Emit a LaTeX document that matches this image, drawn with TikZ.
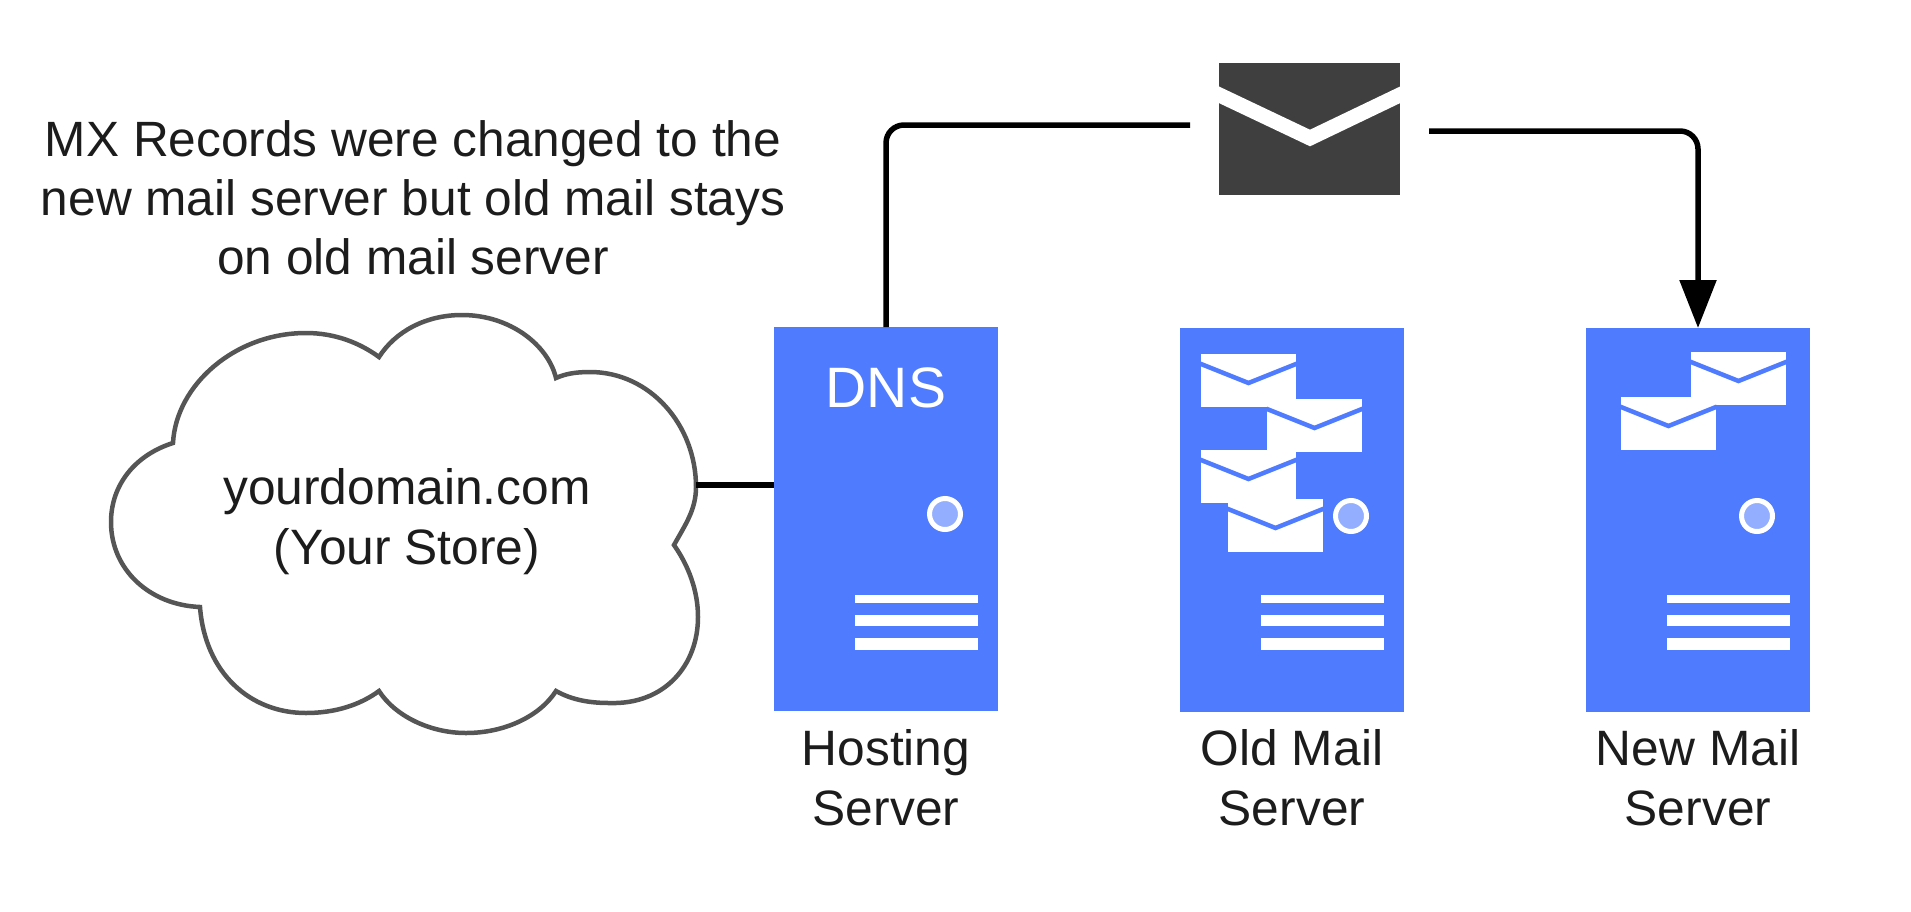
\documentclass[tikz,border=0pt]{standalone}
\usepackage{fontspec}
\setmainfont{Liberation Sans}
\usetikzlibrary{arrows.meta}
\definecolor{srvblue}{HTML}{4F7BFF}
\definecolor{ledblue}{HTML}{94AEFF}
\definecolor{mailgrey}{HTML}{3F3F3F}
\definecolor{cloudgrey}{HTML}{555555}
\definecolor{inkgrey}{HTML}{1C1C1C}
\tikzset{
  server/.style={fill=srvblue,draw=none,minimum width=224pt,minimum height=384pt,inner sep=0pt,outer sep=0pt},
  label/.style={text=inkgrey,align=center,font=\fontsize{49.7}{60}\selectfont,inner sep=0pt},
  link/.style={line width=5.5pt,draw=black,rounded corners=18pt},
  led/.style={circle,fill=ledblue,draw=white,line width=5pt,minimum size=31pt,inner sep=0pt},
  bar/.style={fill=white,draw=none},
  mailbody/.style={fill=white,draw=none},
  mailflap/.style={draw=srvblue,line width=4.5pt}
}
\newcommand{\smallmail}[2]{%
  \fill[mailbody] (#1,#2) rectangle ++(95,53);
  \begin{scope}
    \clip (#1,#2) rectangle ++(95,53);
    \draw[mailflap] (#1-5,#2+8) -- (#1+47.5,#2+29) -- (#1+100,#2+8);
  \end{scope}
}
\newcommand{\serverbars}[1]{%
  \fill[bar] (#1,595) rectangle ++(123,8);
  \fill[bar] (#1,615) rectangle ++(123,11);
  \fill[bar] (#1,638) rectangle ++(123,12);
}
\begin{document}
\begin{tikzpicture}[x=1pt,y=-1pt]
\useasboundingbox (0,0) rectangle (1911,911);
% cloud
\draw[cloudgrey,line width=4.5pt,fill=white,line join=miter]
  (173,443) .. controls (176,385) and (235,333) .. (306,333)
  .. controls (335,333) and (360,343) .. (379,357)
  .. controls (395,332) and (425,315) .. (462,315)
  .. controls (510,315) and (548,345) .. (556,378)
  .. controls (565,374) and (575,372) .. (590,372)
  .. controls (650,372) and (696,425) .. (696,487)
  .. controls (696,510) and (685,525) .. (674,545)
  .. controls (688,565) and (698,590) .. (698,617)
  .. controls (698,665) and (665,705) .. (609,703)
  .. controls (590,703) and (572,700) .. (556,691)
  .. controls (540,716) and (505,733) .. (466,733)
  .. controls (430,733) and (395,716) .. (379,691)
  .. controls (360,705) and (335,713) .. (306,713)
  .. controls (250,713) and (205,673) .. (200,607)
  .. controls (150,605) and (111,570) .. (111,522)
  .. controls (111,485) and (135,455) .. (173,443) -- cycle;
\node[label] (store) at (407,521.5) {yourdomain.com\\(Your Store)};
\coordinate (cloudE) at (696,485);
% servers
\node[server] (hosting) at (886,519) {};
\node[server] (oldsrv) at (1292,520) {};
\node[server] (newsrv) at (1698,520) {};
\node[text=white,font=\fontsize{57}{60}\selectfont,inner sep=0pt] (dns) at (886,388) {DNS};
\node[led] (led1) at (945,514) {};
\node[led] (led2) at (1351,516) {};
\node[led] (led3) at (1757,516) {};
\serverbars{855}
\serverbars{1261}
\serverbars{1667}
\smallmail{1201}{354}
\smallmail{1267}{399}
\smallmail{1201}{450}
\smallmail{1228}{499}
\smallmail{1691}{352}
\smallmail{1621}{397}
% labels
\node[label] (hostlabel) at (886,778) {Hosting\\Server};
\node[label] (oldlabel) at (1292,778) {Old Mail\\Server};
\node[label] (newlabel) at (1698,778) {New Mail\\Server};
\node[label,font=\fontsize{49.6}{59}\selectfont] (note) at (413,197.5) {MX Records were changed to the\\new mail server but old mail stays\\on old mail server};
% envelope
\fill[mailgrey] (1219,63) rectangle (1400,195);
\begin{scope}
  \clip (1219,63) rectangle (1400,195);
  \draw[white,line width=15pt] (1211,91) -- (1310,138) -- (1408,91);
\end{scope}
\node[inner sep=0pt,outer sep=0pt,minimum width=181pt,minimum height=132pt] (mail) at (1309.5,129) {};
\coordinate (mailin) at (1190,125);
\coordinate (mailout) at (1429,131);
% connectors
\draw[link] (cloudE) -- (cloudE -| hosting.west);
\draw[link] (hosting.north) |- (mailin);
\draw[link,-{Triangle[length=48pt,width=36pt]}] (mailout) -| (newsrv.north);
\end{tikzpicture}
\end{document}
